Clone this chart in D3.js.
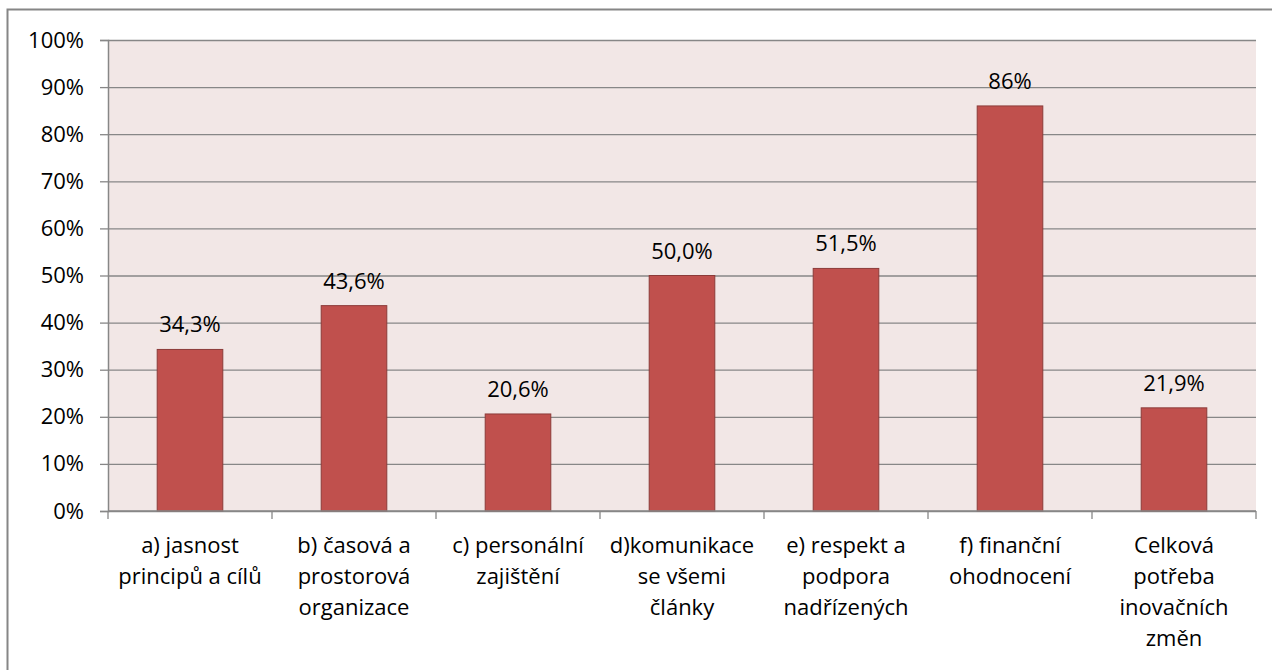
<!DOCTYPE html>
<html>
<head>
<meta charset="utf-8">
<script src="https://d3js.org/d3.v7.min.js"></script>
<style>
  body { margin: 0; background: #fff; }
  text { font-family: "Open Sans", "Noto Sans", sans-serif; fill: #000; }
</style>
</head>
<body>
<script>
// data
const categories = [
  ["a) jasnost", "principů a cílů"],
  ["b) časová a", "prostorová", "organizace"],
  ["c) personální", "zajištění"],
  ["d)komunikace", "se všemi", "články"],
  ["e) respekt a", "podpora", "nadřízených"],
  ["f) finanční", "ohodnocení"],
  ["Celková", "potřeba", "inovačních", "změn"]
];
const values = [34.3, 43.6, 20.6, 50.0, 51.5, 86, 21.9];
const valueLabels = ["34,3%", "43,6%", "20,6%", "50,0%", "51,5%", "86%", "21,9%"];
const yTicks = [0, 10, 20, 30, 40, 50, 60, 70, 80, 90, 100];

const W = 1272, H = 670;
const fs = "22px";
const svg = d3.select("body").append("svg").attr("width", W).attr("height", H);

// outer frame
svg.append("rect").attr("x", 7.5).attr("y", 9.5).attr("width", W + 20).attr("height", H + 20)
  .attr("fill", "#fff").attr("stroke", "#868686").attr("stroke-width", 2);

const pLeft = 108, pRight = 1256, pTop = 40, pBottom = 511;

const x = d3.scaleBand().domain(d3.range(categories.length)).range([pLeft, pRight]).paddingInner(0.6).paddingOuter(0.3);
const xCat = d3.scaleBand().domain(d3.range(categories.length)).range([pLeft, pRight]);
const y = d3.scaleLinear().domain([0, 100]).range([pBottom, pTop]);

// plot background
svg.append("rect").attr("x", pLeft).attr("y", pTop).attr("width", pRight - pLeft).attr("height", pBottom - pTop)
  .attr("fill", "#F2E7E6");

// gridlines
const grid = svg.append("g").attr("transform", "translate(" + pLeft + ",0)")
  .call(d3.axisLeft(y).tickValues(yTicks).tickSize(-(pRight - pLeft)).tickFormat(""));
grid.select(".domain").remove();
grid.selectAll("line").attr("stroke", "#878787").attr("stroke-width", 1.3);

// bars
svg.append("g").selectAll("rect").data(values).join("rect")
  .attr("x", (d, i) => x(i))
  .attr("y", d => y(d))
  .attr("width", x.bandwidth())
  .attr("height", d => y(0) - y(d))
  .attr("fill", "#C0504D")
  .attr("stroke", "#8C3B39")
  .attr("stroke-width", 1);

// value labels
svg.append("g").selectAll("text").data(values).join("text")
  .attr("x", (d, i) => x(i) + x.bandwidth() / 2)
  .attr("y", d => y(d) - 17)
  .attr("text-anchor", "middle")
  .style("font-size", fs)
  .text((d, i) => valueLabels[i]);

// y axis
const yAxis = svg.append("g").attr("transform", "translate(" + pLeft + ",0)")
  .call(d3.axisLeft(y).tickValues(yTicks).tickSize(8).tickPadding(16).tickFormat(d => d + "%"));
yAxis.select(".domain").attr("stroke", "#878787").attr("stroke-width", 1.5);
yAxis.selectAll("line").attr("stroke", "#878787").attr("stroke-width", 1.3);
yAxis.selectAll("text").style("font-size", fs).style("font-family", "'Open Sans', sans-serif").attr("fill", "#000");

// x axis
const xAxis = svg.append("g").attr("transform", "translate(0," + pBottom + ")");
xAxis.append("line").attr("x1", pLeft).attr("x2", pRight).attr("stroke", "#878787").attr("stroke-width", 1.5);
xAxis.selectAll(".tk").data(d3.range(categories.length + 1)).join("line")
  .attr("x1", i => pLeft + i * xCat.bandwidth()).attr("x2", i => pLeft + i * xCat.bandwidth())
  .attr("y1", 0).attr("y2", 8).attr("stroke", "#878787").attr("stroke-width", 1.3);

xAxis.selectAll(".lbl").data(categories).join("text")
  .attr("text-anchor", "middle")
  .attr("transform", (d, i) => "translate(" + (xCat(i) + xCat.bandwidth() / 2) + ",0)")
  .style("font-size", fs)
  .each(function(lines) {
    d3.select(this).selectAll("tspan").data(lines).join("tspan")
      .attr("x", 0).attr("y", (l, k) => 42 + k * 31).text(l => l);
  });
</script>
</body>
</html>
